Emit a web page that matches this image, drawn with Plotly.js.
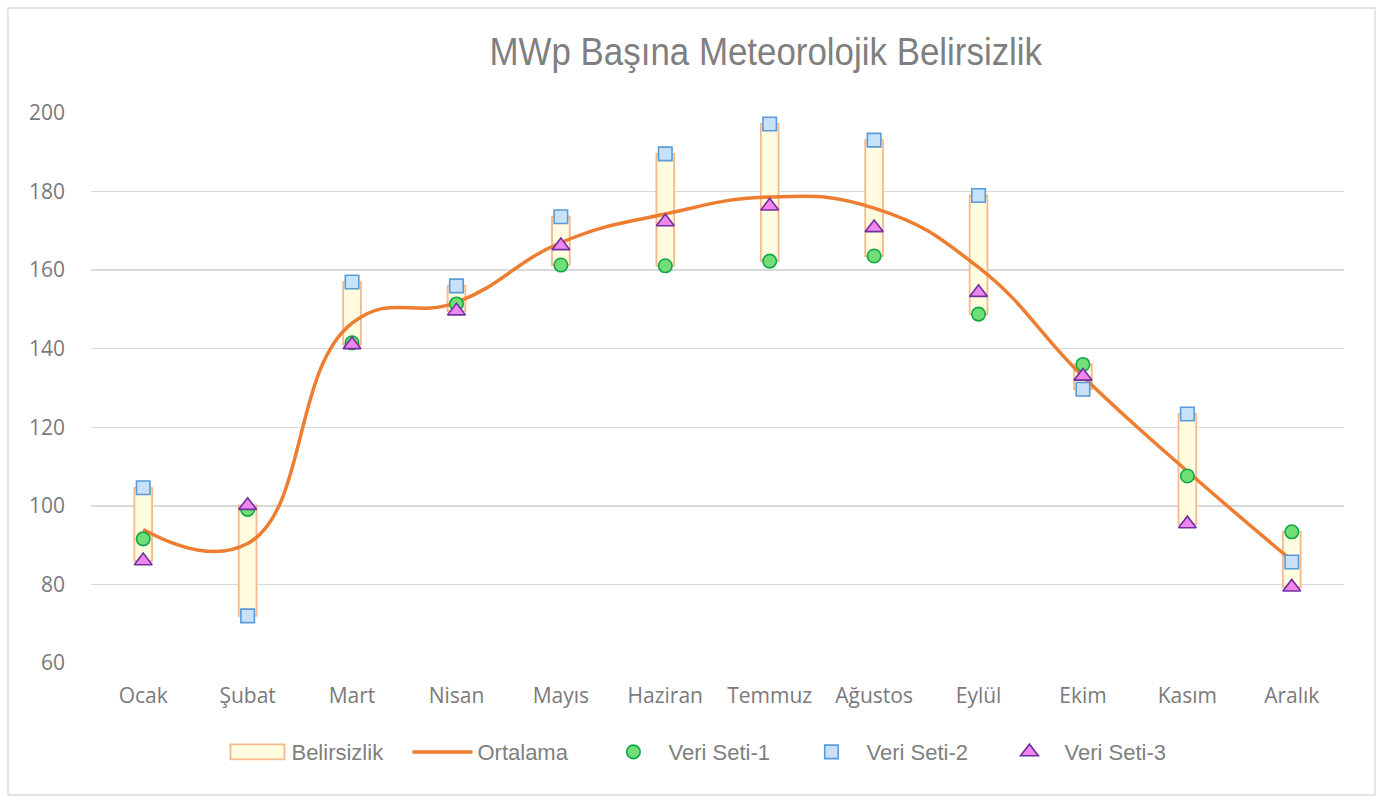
<!DOCTYPE html>
<html>
<head>
<meta charset="utf-8">
<script src="https://cdn.plot.ly/plotly-3.0.1.min.js"></script>
<style>
  html, body { margin: 0; padding: 0; background: #ffffff; }
  #chart { width: 1383px; height: 802px; }
</style>
</head>
<body>
<div id="chart"></div>
<script>
// ---- Data ----
const months = ['Ocak', 'Şubat', 'Mart', 'Nisan', 'Mayıs', 'Haziran', 'Temmuz', 'Ağustos', 'Eylül', 'Ekim', 'Kasım', 'Aralık'];
const veriSeti1 = [91.6, 99.1, 141.5, 151.4, 161.3, 161.1, 162.3, 163.6, 148.8, 136.0, 107.6, 93.4];
const veriSeti2 = [104.6, 72.0, 157.0, 156.0, 173.6, 189.6, 197.2, 193.1, 179.0, 129.7, 123.4, 85.7];
const veriSeti3 = [86.0, 100.1, 141.0, 149.6, 166.2, 172.3, 176.3, 170.8, 154.3, 133.0, 95.4, 79.3];
const ortalama  = [94.0, 90.4, 146.5, 151.8, 167.0, 174.3, 178.6, 175.8, 160.7, 132.9, 108.8, 86.1];

// Uncertainty band = range spanned by the three data sets
const low  = months.map((_, i) => Math.min(veriSeti1[i], veriSeti2[i], veriSeti3[i]));
const high = months.map((_, i) => Math.max(veriSeti1[i], veriSeti2[i], veriSeti3[i]));
const span = high.map((h, i) => h - low[i]);

const gray = '#7f7f7f';
const tickFont = { family: '"Open Sans", "Noto Sans", sans-serif', size: 21, color: '#7a7a7a' };
const sans = '"Liberation Sans", Arial, sans-serif';

const traces = [
  {
    type: 'bar', name: 'Belirsizlik', x: months, y: span, base: low,
    width: 0.17,
    marker: { color: '#FFFCDF', line: { color: '#F5B98E', width: 1.8 } },
    hoverinfo: 'skip'
  },
  {
    type: 'scatter', mode: 'lines', name: 'Ortalama', x: months, y: ortalama,
    line: { color: '#ED7D31', width: 3.5, shape: 'spline', smoothing: 1.3 }
  },
  {
    type: 'scatter', mode: 'markers', name: 'Veri Seti-1', x: months, y: veriSeti1,
    marker: { symbol: 'circle', size: 13.5, color: '#72DE78', line: { color: '#12A847', width: 1.6 } }
  },
  {
    type: 'scatter', mode: 'markers', name: 'Veri Seti-2', x: months, y: veriSeti2,
    marker: { symbol: 'square', size: 13.5, color: '#C7E1F8', line: { color: '#5B9BD5', width: 1.6 } }
  },
  {
    type: 'scatter', mode: 'markers', name: 'Veri Seti-3', x: months, y: veriSeti3,
    marker: { symbol: 'triangle-up', size: 15.5, color: '#EE86EE', line: { color: '#7030A0', width: 1.6 } }
  }
];

const layout = {
  width: 1383, height: 802,
  margin: { l: 91, r: 39, t: 113, b: 139 },
  paper_bgcolor: '#ffffff', plot_bgcolor: '#ffffff',
  showlegend: true,
  title: {
    text: 'MWp Başına Meteorolojik Belirsizlik',
    font: { family: sans, size: 39, color: gray },
    x: 767 / 1383, xanchor: 'center', xref: 'paper',
    y: 1 - 51 / 802, yanchor: 'middle', yref: 'container'
  },
  xaxis: {
    type: 'category', range: [-0.5, 11.5],
    showgrid: false, zeroline: false, showline: false,
    ticks: '', tickfont: tickFont, ticklabelstandoff: 18
  },
  yaxis: {
    range: [60, 200], dtick: 20, tick0: 60,
    showgrid: true, gridcolor: '#D9D9D9', gridwidth: 1.4,
    zeroline: false, showline: false, ticks: '',
    tickfont: tickFont, ticklabelstandoff: 25
  },
  legend: {
    orientation: 'h', x: 0.484, xanchor: 'center', y: -0.162, yanchor: 'middle',
    font: { family: sans, size: 22, color: gray },
    itemwidth: 60, entrywidth: 123, traceorder: 'normal'
  },
  shapes: [
    {
      type: 'rect', xref: 'paper', yref: 'paper',
      x0: (8 - 91) / 1253, x1: (1375 - 91) / 1253,
      y0: (663 - 795) / 550, y1: (663 - 8) / 550,
      line: { color: '#D9D9D9', width: 1.3 }, fillcolor: 'rgba(0,0,0,0)', layer: 'below'
    }
  ],
  bargap: 0
};

Plotly.newPlot('chart', traces, layout, { displayModeBar: false, staticPlot: true }).then(gd => {
  // Condense the title horizontally to mimic the narrow title face, keeping it centred at x=766
  const t = gd.querySelector('.gtitle');
  if (t) {
    const bb = t.getBBox();
    const cx = bb.x + bb.width / 2;
    const s = 553 / bb.width;
    t.setAttribute('transform', `translate(766,0) scale(${s},1) translate(${-cx},0)`);
  }
  // Wide rectangle swatch for the band legend entry
  const items = gd.querySelectorAll('.legend .traces');
  const first = items.length ? items[0].querySelector('.legendpoints path') : null;
  if (first) first.setAttribute('d', 'M-26,-7.5H28V7.5H-26Z');
  // Nudge the first two legend entries to the reference spacing
  const shifts = [19, 7];
  shifts.forEach((dx, i) => {
    const el = items[i];
    if (!el) return;
    const tr = el.getAttribute('transform') || '';
    const m = tr.match(/translate\(\s*([-\d.]+)[ ,]+([-\d.]+)\s*\)/);
    if (m) el.setAttribute('transform', `translate(${parseFloat(m[1]) + dx},${m[2]})`);
  });
});
</script>
</body>
</html>
